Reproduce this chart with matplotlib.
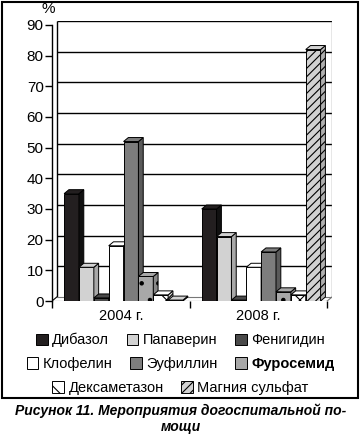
import matplotlib.pyplot as plt
from matplotlib.patches import Polygon, Rectangle, Patch
import numpy as np

plt.rcParams['font.family'] = ['Liberation Sans', 'DejaVu Sans']
plt.rcParams['hatch.linewidth'] = 0.8

years = ['2004 г.', '2008 г.']
drugs = ['Дибазол', 'Папаверин', 'Фенигидин', 'Клофелин', 'Эуфиллин',
         'Фуросемид', 'Дексаметазон', 'Магния сульфат']
v2004 = [35, 11, 1, 18, 52, 8, 2, 0.3]
v2008 = [30, 21, 0.3, 11, 16, 3, 2, 82]
yticks = [0, 10, 20, 30, 40, 50, 60, 70, 80, 90]

colors = ['#231f20', '#d2d2d2', '#4a4a4a', '#ffffff', '#7d7d7d', '#a8a8a8', '#ffffff', '#d2d2d2']
hatches = [None, None, None, None, None, '.', 'x', '////']
side = ['#111111', '#a8a8a8', '#2a2a2a', '#cfcfcf', '#5a5a5a', '#888888', '#dddddd', '#b0b0b0']

fig = plt.figure(figsize=(3.61, 4.36), dpi=100)
fig.patch.set_facecolor('white')
fig.patches.append(Rectangle((2 / 361, 38 / 436), 356 / 361, 396 / 436, transform=fig.transFigure,
                             fill=False, edgecolor='black', linewidth=1.5))

ax = fig.add_axes([52 / 361, 135 / 436, 280 / 361, 280 / 436])
dx, dy = 0.035, 1.3
ax.set_xlim(0, 2 + dx)
ax.set_ylim(0, 90 + dy)

# back wall gridlines
ax.hlines([t + dy for t in yticks[1:]], dx, 2 + dx, color='black', linewidth=1, zorder=0)
ax.vlines(dx, dy, 90 + dy, color='black', linewidth=1, zorder=0)
ax.vlines(2 + dx, dy, 90 + dy, color='#888888', linewidth=1, zorder=0)
ax.plot([0, dx], [0, dy], color='black', linewidth=0.8, zorder=0)
ax.plot([0, 2], [0, 0], color='black', linewidth=0.8, zorder=0)
ax.plot([dx, 2 + dx], [dy, dy], color='#777777', linewidth=0.8, zorder=0)
ax.plot([2, 2 + dx], [0, dy], color='#777777', linewidth=0.8, zorder=0)

w = 0.108
for g, vals in enumerate([v2004, v2008]):
    start = g + 0.5 - w * len(vals) / 2 + 0.02
    for i, v in enumerate(vals):
        x0 = start + i * w
        z = 2 + i * 3 + g * 30
        b = ax.bar(x0, v, w, align='edge', color=colors[i], edgecolor='black',
                   hatch=hatches[i], linewidth=0.7, zorder=z)[0]
        ax.add_patch(Polygon([(x0 + w, 0), (x0 + w + dx, dy), (x0 + w + dx, v + dy), (x0 + w, v)],
                             closed=True, facecolor=side[i], edgecolor='black', linewidth=0.7,
                             hatch=hatches[i], zorder=z + 1))
        ax.add_patch(Polygon([(x0, v), (x0 + dx, v + dy), (x0 + w + dx, v + dy), (x0 + w, v)],
                             closed=True, facecolor=colors[i], edgecolor='black', linewidth=0.7,
                             zorder=z + 1))

for s in ['top', 'right']:
    ax.spines[s].set_visible(False)
ax.spines['left'].set_bounds(0, 90)
ax.spines['left'].set_linewidth(1)
ax.spines['bottom'].set_visible(False)
ax.set_yticks(yticks)
ax.tick_params(axis='y', labelsize=11, length=5, width=1, pad=1)
ax.set_xticks([0, 1, 2])
ax.set_xticklabels(['', '', ''])
ax.tick_params(axis='x', length=5, width=1)
for i, yl in enumerate(years):
    ax.text(i + 0.5, -2.5, yl, ha='center', va='top', fontsize=10.5)
ax.text(-0.03, 93, '%', ha='center', va='bottom', fontsize=11)

handles = [Patch(facecolor=colors[i], edgecolor='black', hatch=hatches[i], linewidth=0.7)
           for i in range(len(drugs))]
rows = [[0, 1, 2], [3, 4, 5], [6, 7]]
row_y = [340, 364, 388]
for r, yy in zip(rows, row_y):
    leg = fig.legend([handles[i] for i in r], [drugs[i] for i in r], loc='center',
                     bbox_to_anchor=(0.5, 1 - yy / 436), ncol=len(r), frameon=False,
                     fontsize=10.5, handlelength=0.8, handleheight=0.8, handletextpad=0.3,
                     columnspacing=1.2, borderpad=0)
    for t in leg.get_texts():
        if t.get_text() == 'Фуросемид':
            t.set_fontweight('bold')

fig.text(0.5, 1 - 411 / 436, 'Рисунок 11. Мероприятия догоспитальной по-', ha='center', va='center',
         fontsize=10, fontweight='bold', fontstyle='italic')
fig.text(0.5, 1 - 427 / 436, 'мощи', ha='center', va='center',
         fontsize=10, fontweight='bold', fontstyle='italic')

fig.savefig('out.png', dpi=100)
